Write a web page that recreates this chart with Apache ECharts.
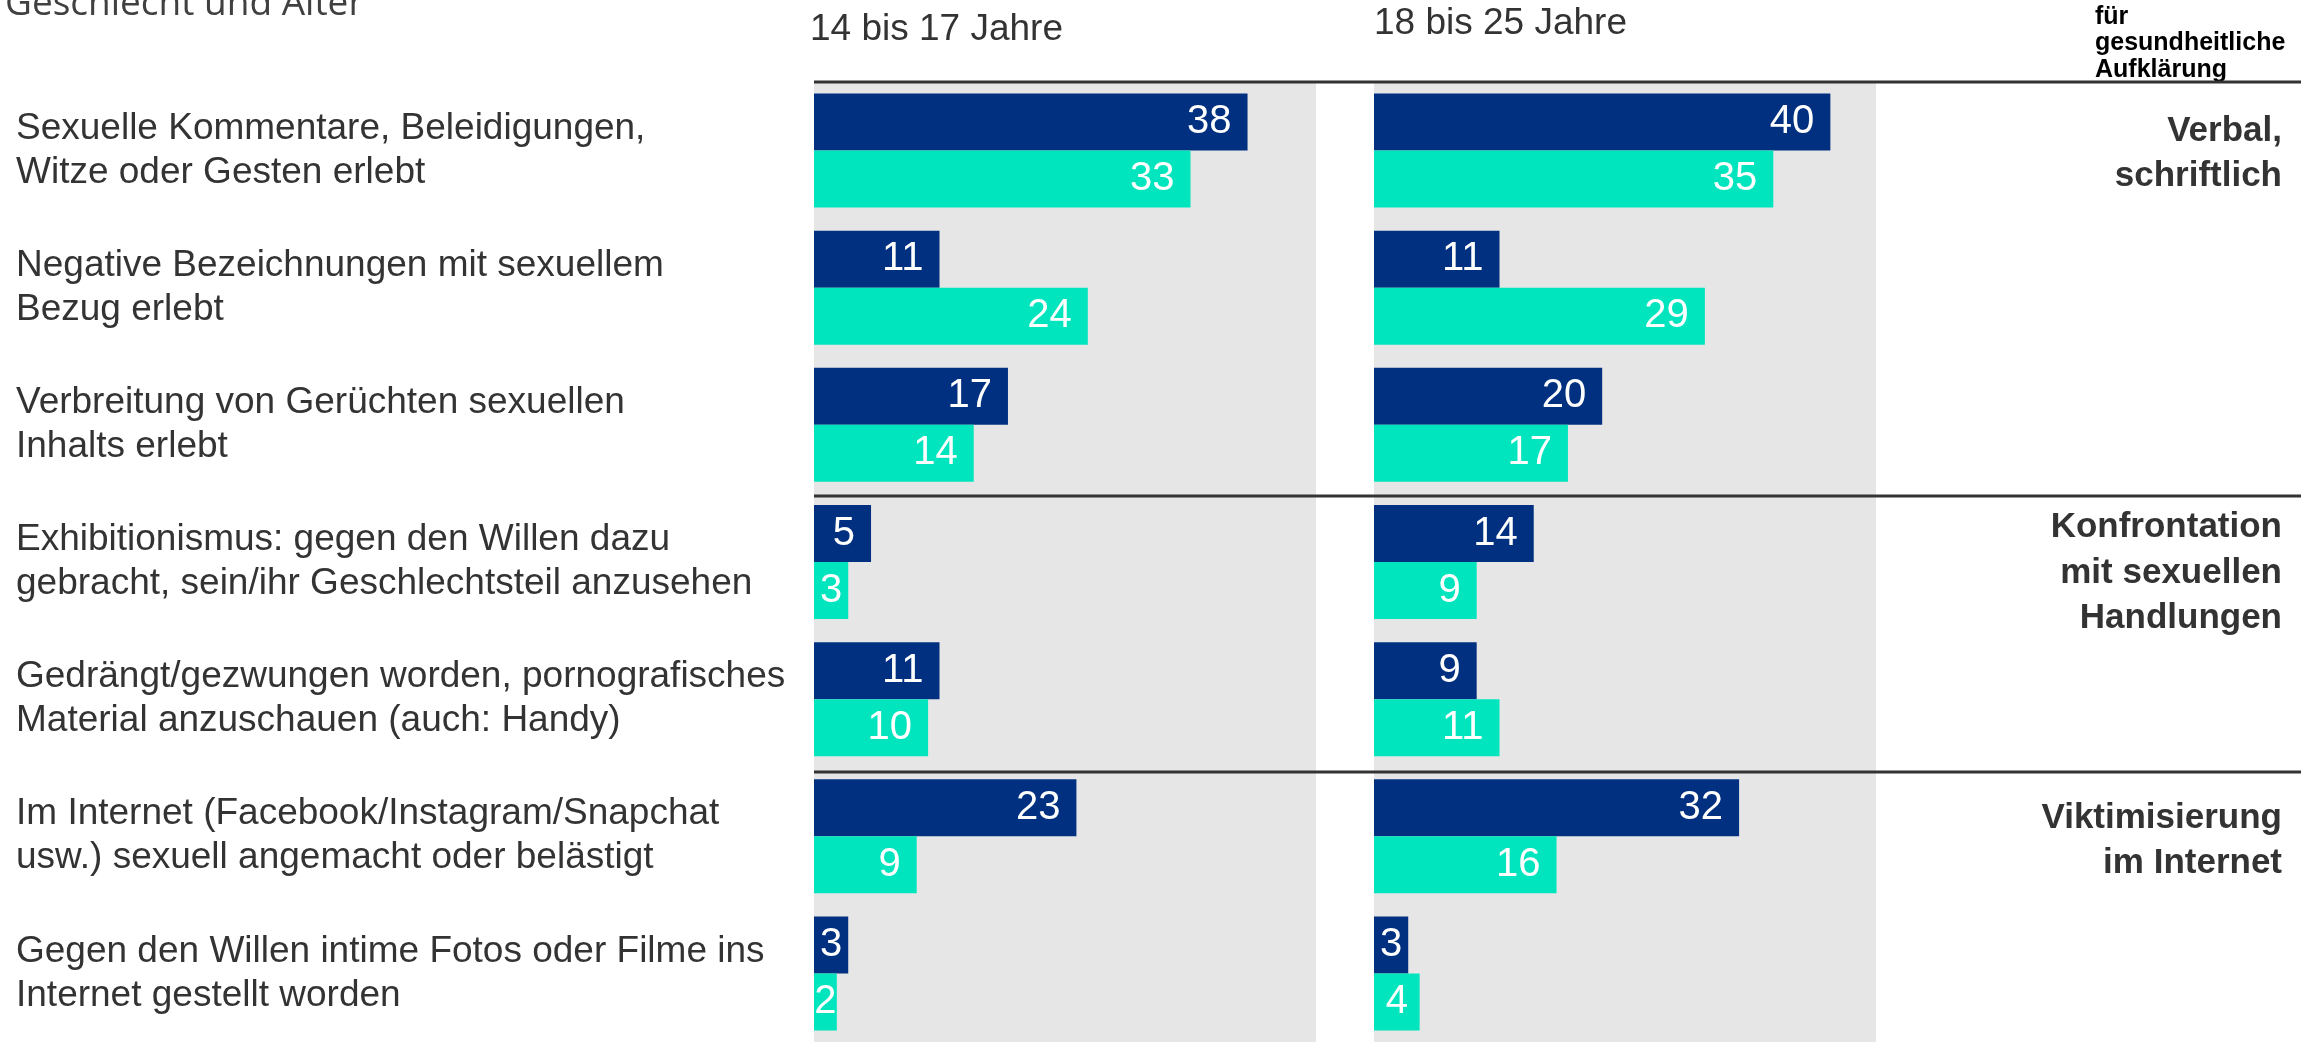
<!DOCTYPE html>
<html>
<head>
<meta charset="utf-8">
<script src="https://cdn.jsdelivr.net/npm/echarts@6/dist/echarts.min.js"></script>
<style>
html,body{margin:0;padding:0;background:#fff;}
#chart{width:2310px;height:1042px;}
</style>
</head>
<body>
<div id="chart"></div>
<script>
const categories = [
  "Sexuelle Kommentare, Beleidigungen,\nWitze oder Gesten erlebt",
  "Negative Bezeichnungen mit sexuellem\nBezug erlebt",
  "Verbreitung von Gerüchten sexuellen\nInhalts erlebt",
  "Exhibitionismus: gegen den Willen dazu\ngebracht, sein/ihr Geschlechtsteil anzusehen",
  "Gedrängt/gezwungen worden, pornografisches\nMaterial anzuschauen (auch: Handy)",
  "Im Internet (Facebook/Instagram/Snapchat\nusw.) sexuell angemacht oder belästigt",
  "Gegen den Willen intime Fotos oder Filme ins\nInternet gestellt worden"
];
const panelTitles = ["14 bis 17 Jahre", "18 bis 25 Jahre"];
const age1417Blue = [38, 11, 17, 5, 11, 23, 3];
const age1417Green = [33, 24, 14, 3, 10, 9, 2];
const age1825Blue = [40, 11, 20, 14, 9, 32, 3];
const age1825Green = [35, 29, 17, 9, 11, 16, 4];
const groupLabels = ["Verbal,\nschriftlich", "Konfrontation\nmit sexuellen\nHandlungen", "Viktimisierung\nim Internet"];
const groupStartIndex = [0, 3, 5];
const topLeftText = "Geschlecht und Alter";
const logoText = "Bundeszentrale\nfür\ngesundheitliche\nAufklärung";

const BLUE = '#00307F';
const GREEN = '#00E5BE';
const GRAY = '#E6E6E6';
const TXT = '#333333';
const FONT = '"Liberation Sans", Arial, sans-serif';

const gridTop = 82, band = 138, gridH = band * categories.length;
const gridLefts = [814, 1374], gridW = 502;

function mkData(vals) {
  return vals.map(v => v <= 4
    ? { value: v, label: { position: 'inside' } }
    : { value: v });
}
function mkSeries(name, vals, color, idx) {
  return {
    type: 'bar', name: name, xAxisIndex: idx, yAxisIndex: idx,
    data: mkData(vals), barWidth: 57, barGap: '0%',
    itemStyle: { color: color },
    label: { show: true, position: 'insideRight', distance: 16, color: '#fff',
      fontSize: 40, fontFamily: FONT },
    animation: false, silent: true
  };
}

const chart = echarts.init(document.getElementById('chart'), null, { renderer: 'canvas' });

const graphics = [];
groupStartIndex.forEach(i => {
  graphics.push({ type: 'line', z: 100,
    shape: { x1: gridLefts[0], y1: gridTop + i * band, x2: 2301, y2: gridTop + i * band },
    style: { stroke: '#333', lineWidth: 3 } });
});
graphics.push({ type: 'text', x: 810, y: 30, style: { text: panelTitles[0], font: '37px ' + FONT, fill: TXT, verticalAlign: 'middle' } });
graphics.push({ type: 'text', x: 1374, y: 24, style: { text: panelTitles[1], font: '37px ' + FONT, fill: TXT, verticalAlign: 'middle' } });
graphics.push({ type: 'text', x: 5, y: 4, style: { text: topLeftText, font: '37px "Open Sans", sans-serif', fill: '#404040', verticalAlign: 'middle' } });
graphics.push({ type: 'text', x: 2095, y: 30, style: { text: logoText, font: 'bold 25px ' + FONT, fill: '#000', lineHeight: 26.5, verticalAlign: 'middle' } });
const groupCenters = [154, 573, 841];
groupLabels.forEach((t, k) => {
  graphics.push({ type: 'text', x: 2282, y: groupCenters[k], style: { text: t, font: 'bold 35px ' + FONT, fill: TXT, lineHeight: 45.5, align: 'right', verticalAlign: 'middle' } });
});

const option = {
  animation: false,
  grid: gridLefts.map(l => ({ left: l, top: gridTop, width: gridW, height: gridH,
    show: true, backgroundColor: GRAY, borderWidth: 0, containLabel: false })),
  xAxis: [0, 1].map(i => ({ type: 'value', gridIndex: i, min: 0, max: 44, show: false })),
  yAxis: [0, 1].map(i => ({
    type: 'category', gridIndex: i, data: categories, inverse: true,
    axisLine: { show: false }, axisTick: { show: false },
    axisLabel: i === 0 ? { show: true, align: 'left', margin: gridLefts[0] - 16, fontSize: 37,
      lineHeight: 44, color: TXT, fontFamily: FONT } : { show: false }
  })),
  series: [
    mkSeries('Reihe 1', age1417Blue, BLUE, 0),
    mkSeries('Reihe 2', age1417Green, GREEN, 0),
    mkSeries('Reihe 1', age1825Blue, BLUE, 1),
    mkSeries('Reihe 2', age1825Green, GREEN, 1)
  ],
  graphic: graphics
};
chart.setOption(option);
</script>
</body>
</html>
